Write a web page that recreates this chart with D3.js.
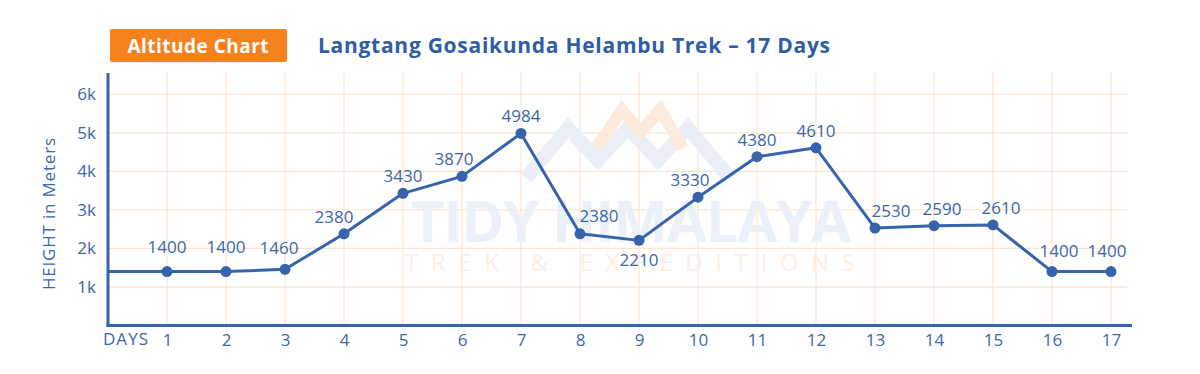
<!DOCTYPE html>
<html>
<head>
<meta charset="utf-8">
<script src="https://cdn.jsdelivr.net/npm/d3@7"></script>
<style>
  body { margin: 0; background: #fff; }
  svg { display: block; font-family: "Open Sans", sans-serif; }
</style>
</head>
<body>
<script>
// data
var days = [1, 2, 3, 4, 5, 6, 7, 8, 9, 10, 11, 12, 13, 14, 15, 16, 17];
var altitudes = [1400, 1400, 1460, 2380, 3430, 3870, 4984, 2380, 2210, 3330, 4380, 4610, 2530, 2590, 2610, 1400, 1400];
var yTicks = [1000, 2000, 3000, 4000, 5000, 6000];

// label nudges (layout only), keyed by day
var labelNudge = { 1: [0, -19], 2: [0, -19], 3: [-6, -15], 4: [-10, -11], 6: [-8, -11],
    8: [19, -12], 9: [0, 26], 10: [-8, -11], 13: [16, -11], 14: [8, -11], 15: [8, -11],
    16: [7, -15], 17: [-4, -15] };

var blue = "#3564ad";
var textBlue = "#3b67ab";
var gridCol = "#fde4cf";

var W = 1200, H = 374;
var plotL = 108, plotR = 1132, plotT = 73, plotB = 325.6;

var svg = d3.select("body").append("svg")
    .attr("width", W)
    .attr("height", H);

var x = d3.scaleLinear()
    .domain([0, 17])
    .range([plotL, 1111]);

var y = d3.scaleLinear()
    .domain([0, 6550])
    .range([plotB, plotT]);

// grid
svg.append("g").selectAll("line")
    .data(days)
    .enter().append("line")
    .attr("x1", function(d) { return x(d); })
    .attr("x2", function(d) { return x(d); })
    .attr("y1", plotT)
    .attr("y2", plotB)
    .attr("stroke", gridCol)
    .attr("stroke-width", 1.2);

svg.append("g").selectAll("line")
    .data(yTicks)
    .enter().append("line")
    .attr("x1", plotL)
    .attr("x2", plotR - 5)
    .attr("y1", function(d) { return y(d); })
    .attr("y2", function(d) { return y(d); })
    .attr("stroke", gridCol)
    .attr("stroke-width", 1.2);

// watermark
var wm = svg.append("g");
wm.append("polyline")
    .attr("points", "526,178 568,128 598,160 628,128 658,160 688,128 730,178")
    .attr("fill", "none")
    .attr("stroke", "#e9eef7")
    .attr("stroke-width", 14);
wm.append("polyline")
    .attr("points", "596,148 622,110 641,132 660,110 683,148")
    .attr("fill", "none")
    .attr("stroke", "#fdeadb")
    .attr("stroke-width", 12);
wm.append("text")
    .attr("x", 631).attr("y", 242)
    .attr("text-anchor", "middle")
    .attr("font-size", 58)
    .attr("font-weight", 700)
    .attr("fill", "#ecf0f8")
    .attr("textLength", 440)
    .text("TIDY HIMALAYA");
wm.append("text")
    .attr("x", 630).attr("y", 271)
    .attr("text-anchor", "middle")
    .attr("font-size", 24)
    .attr("fill", "#fdeee2")
    .attr("textLength", 450)
    .text("TREK & EXPEDITIONS");

// axes
var yAxis = d3.axisLeft(y)
    .tickValues(yTicks)
    .tickSize(0)
    .tickPadding(12)
    .tickFormat(function(d) { return d / 1000 + "k"; });

var gy = svg.append("g")
    .attr("transform", "translate(" + plotL + ",0)")
    .call(yAxis);
gy.select(".domain").remove();
gy.selectAll("text")
    .attr("font-size", 17)
    .attr("font-family", "'Open Sans', sans-serif")
    .attr("fill", textBlue);

var xAxis = d3.axisBottom(x)
    .tickValues(days)
    .tickSize(0)
    .tickPadding(8);

var gx = svg.append("g")
    .attr("transform", "translate(0," + plotB + ")")
    .call(xAxis);
gx.select(".domain").remove();
gx.selectAll("text")
    .attr("font-size", 17)
    .attr("font-family", "'Open Sans', sans-serif")
    .attr("fill", textBlue);

svg.append("line")
    .attr("x1", plotL).attr("x2", plotL)
    .attr("y1", plotT).attr("y2", plotB + 1.5)
    .attr("stroke", blue).attr("stroke-width", 3);
svg.append("line")
    .attr("x1", plotL - 1.5).attr("x2", plotR)
    .attr("y1", plotB).attr("y2", plotB)
    .attr("stroke", blue).attr("stroke-width", 3);

svg.append("text")
    .attr("x", 103).attr("y", 345)
    .attr("font-size", 17)
    .attr("fill", textBlue)
    .attr("textLength", 45)
    .text("DAYS");

svg.append("text")
    .attr("transform", "translate(55,214) rotate(-90)")
    .attr("text-anchor", "middle")
    .attr("font-size", 17)
    .attr("fill", textBlue)
    .attr("textLength", 152)
    .text("HEIGHT in Meters");

// line, starting from the axis
var pts = days.map(function(d, i) { return [d, altitudes[i]]; });
var linePts = [[0, altitudes[0]]].concat(pts);

var line = d3.line()
    .x(function(d) { return x(d[0]); })
    .y(function(d) { return y(d[1]); });

svg.append("path")
    .datum(linePts)
    .attr("d", line)
    .attr("fill", "none")
    .attr("stroke", blue)
    .attr("stroke-width", 3)
    .attr("stroke-linejoin", "round");

svg.append("g").selectAll("circle")
    .data(pts)
    .enter().append("circle")
    .attr("cx", function(d) { return x(d[0]); })
    .attr("cy", function(d) { return y(d[1]); })
    .attr("r", 5.5)
    .attr("fill", blue);

svg.append("g").selectAll("text")
    .data(pts)
    .enter().append("text")
    .attr("x", function(d) { var n = labelNudge[d[0]]; return x(d[0]) + (n ? n[0] : 0); })
    .attr("y", function(d) { var n = labelNudge[d[0]]; return y(d[1]) + (n ? n[1] : -11); })
    .attr("text-anchor", "middle")
    .attr("font-size", 17)
    .attr("fill", textBlue)
    .text(function(d) { return d[1]; });

// header
svg.append("rect")
    .attr("x", 110).attr("y", 29)
    .attr("width", 177).attr("height", 33)
    .attr("rx", 2)
    .attr("fill", "#f5821f");
svg.append("text")
    .attr("x", 198).attr("y", 53)
    .attr("text-anchor", "middle")
    .attr("font-size", 19)
    .attr("font-weight", 700)
    .attr("fill", "#fff")
    .attr("textLength", 141)
    .text("Altitude Chart");

svg.append("text")
    .attr("x", 318).attr("y", 53)
    .attr("font-size", 21)
    .attr("font-weight", 700)
    .attr("fill", "#2f5ea5")
    .attr("textLength", 512)
    .text("Langtang Gosaikunda Helambu Trek \u2013 17 Days");
</script>
</body>
</html>
